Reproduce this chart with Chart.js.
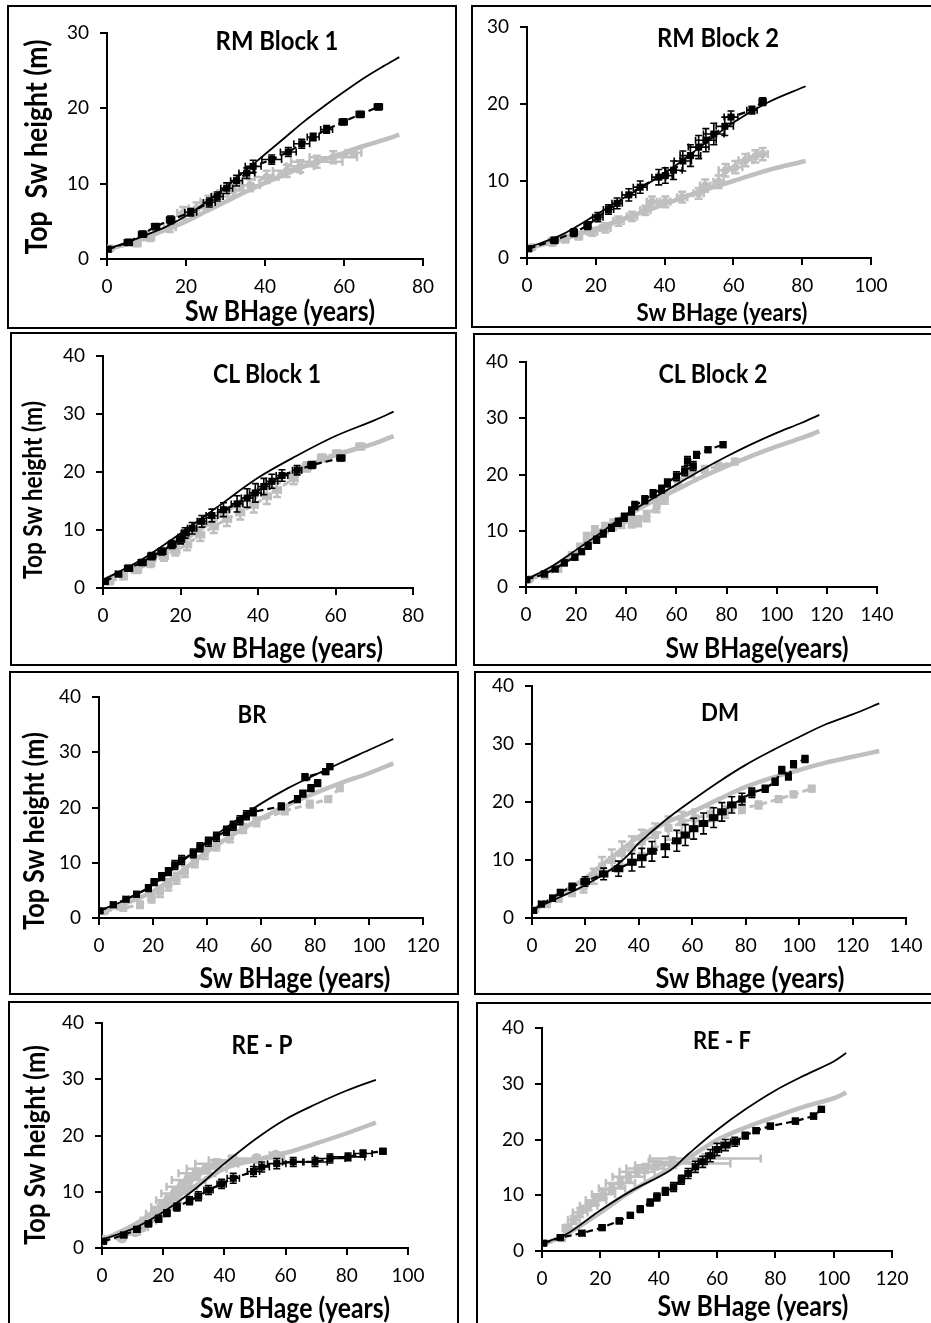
<!DOCTYPE html>
<html><head><meta charset="utf-8">
<script src="https://cdn.jsdelivr.net/npm/chart.js@4.4.1/dist/chart.umd.min.js"></script>
<style>
html,body{margin:0;padding:0;background:#fff;}
body{width:931px;height:1323px;overflow:hidden;position:relative;font-family:Lato,'Open Sans',sans-serif;}
.box{position:absolute;border:2px solid #000;box-sizing:border-box;}
.t{position:absolute;font-weight:bold;white-space:pre;line-height:1;color:#000;}
canvas{position:absolute;}
</style></head><body>
<script>
// ===== DATA =====
// RM Block 1
const p1CurveX = [0,5,10,15,20,25,30,35,40,45,50,55,60,65,70,74];
const p1ModelBlack = [1.3,2.2,3.2,4.3,5.7,7.5,9.5,11.7,13.9,16.1,18.3,20.3,22.2,24.0,25.6,26.8];
const p1ModelGray = [1.2,2.0,2.9,3.9,5.0,6.3,7.6,8.9,10.1,11.2,12.3,13.2,14.1,15.0,15.8,16.5];
const p1BlackAge = [0.3,5.4,9.0,12.3,16.1,21.2,25.9,27.9,30.3,32.8,35.4,37.0,41.7,45.9,49.3,52.2,55.6,59.8,64.1,68.7];
const p1BlackHt = [1.3,2.2,3.3,4.3,5.2,6.2,7.5,8.3,9.4,10.4,11.4,12.3,13.2,14.2,15.3,16.2,17.2,18.2,19.2,20.2];
const p1BlackErrX = [0.5,1,1,1,1,1.5,1.5,1.5,1.5,1.5,2,2,2.5,2,2,1.5,1.5,1,1,1];
const p1BlackErrY = [0.3,0.4,0.4,0.4,0.5,0.5,0.6,0.6,0.7,0.7,0.7,0.8,0.6,0.6,0.6,0.5,0.5,0.4,0.4,0.4];
const p1GrayAge = [0.8,7.5,10.9,15.9,19.3,22.7,25.7,28.6,32.0,36.2,40.4,45.5,48.9,53.1,57.3,62.4];
const p1GrayHt = [1.4,2.1,2.9,4.2,6.1,6.7,7.6,8.3,9.1,9.8,10.9,11.7,12.3,12.9,13.5,14.1];
const p1GrayErrX = [0.5,1,1,1.5,1.5,2,2,2,2.5,2.5,3,3.5,3.5,6.5,6,2];
const p1GrayErrY = [0.3,0.4,0.5,0.6,0.8,0.8,0.8,0.8,0.8,0.8,0.8,0.8,0.8,0.8,0.8,0.5];
// RM Block 2
const p2CurveX = [0,10,20,30,40,50,60,70,81];
const p2ModelBlack = [1.3,3.0,5.6,8.3,11.0,14.3,17.6,20.2,22.3];
const p2ModelGray = [1.2,2.4,3.8,5.4,7.0,8.6,10.0,11.4,12.6];
const p2BlackAge = [0.5,8.0,13.6,17.6,20.6,23.7,26.2,29.6,32.9,38.3,40.2,42.6,45.3,47.5,49.9,52.0,54.3,57.5,59.3,65.4,68.5];
const p2BlackHt = [1.2,2.3,3.3,4.2,5.3,6.3,7.1,8.2,9.2,10.5,10.7,11.4,12.6,13.3,14.4,15.3,16.1,17.1,18.3,19.2,20.3];
const p2BlackErrX = [0.5,1,1,1,1.5,1.5,1.5,2,2,2,2,2.5,2.5,3,3,3,3,2.5,2,1.5,1];
const p2BlackErrY = [0.3,0.4,0.5,0.5,0.6,0.6,0.7,0.8,0.8,1,1,1.2,1.3,1.4,1.5,1.5,1.4,1.2,0.8,0.5,0.5];
const p2GrayAge = [1.5,7.3,11.1,15.0,18.9,22.8,26.6,30.5,34.4,36.3,40.2,45.1,49.9,51.8,55.7,57.7,60.6,63.5,66.4,68.5];
const p2GrayHt = [1.4,2.1,2.5,2.9,3.4,3.9,4.8,5.4,6.2,7.3,7.3,7.9,8.4,9.4,9.9,11.4,11.8,12.7,13.2,13.5];
const p2GrayErrX = [0.5,1,1,1,1.5,1.5,1.5,1.5,1.5,1.5,1.5,1.5,1.5,1.5,1.5,2,2,2,2,1.5];
const p2GrayErrY = [0.3,0.5,0.5,0.5,0.5,0.6,0.6,0.6,0.6,0.7,0.7,0.7,0.7,0.8,0.8,0.8,0.8,0.8,0.8,0.8];
// CL Block 1
const p3CurveX = [0,10,20,30,40,50,60,70,75];
const p3ModelBlack = [1.4,4.9,9.4,14.2,19.0,22.8,26.2,28.9,30.4];
const p3ModelGray = [1.3,4.2,7.9,12.4,16.9,20.3,22.9,24.9,26.2];
const p3BlackAge = [0.6,4.0,6.6,10.1,12.6,15.2,17.8,20.0,21.2,23.0,25.5,28.1,31.1,34.6,37.2,39.3,41.5,43.6,46.2,50.1,53.9,61.4];
const p3BlackHt = [1.1,2.4,3.4,4.4,5.5,6.3,7.5,8.4,9.5,10.3,11.5,12.5,13.5,14.5,15.5,16.4,17.5,18.4,19.4,20.3,21.2,22.4];
const p3BlackErrX = [0.5,0.8,1,1,1,1,1,1,1,1.2,1.2,1.5,1.5,1.5,1.5,1.5,1.5,1.5,1.5,1.2,1,1];
const p3BlackErrY = [0.3,0.4,0.5,0.5,0.6,0.6,0.7,0.8,0.9,1,1,1.1,1.2,1.4,1.6,1.6,1.4,1.2,1,0.8,0.6,0.5];
const p3GrayAge = [1.9,5.3,8.8,12.2,15.7,18.7,21.7,25.1,28.6,32.0,35.4,38.9,42.3,44.9,49.2,52.6,56.5,60.4,66.4];
const p3GrayHt = [1.1,2.0,3.2,4.3,5.5,6.5,7.5,9.2,10.6,11.9,13.0,14.3,15.8,16.9,18.9,20.9,22.4,23.2,24.4];
const p3GrayErrX = [0.5,0.8,1,1,1,1,1,1,1,1,1,1,1,1,1,1,1,1,1];
const p3GrayErrY = [0.3,0.5,0.6,0.7,0.8,0.9,1,1.1,1.1,1.2,1.2,1.3,1.3,1.2,1,0.8,0.6,0.5,0.5];
// CL Block 2
const p4CurveX = [0,10,20,30,40,50,60,70,80,90,100,110,117];
const p4ModelBlack = [1.3,3.6,6.6,9.7,12.9,15.6,18.2,20.8,23.2,25.4,27.4,29.2,30.6];
const p4ModelGray = [1.2,3.3,6.0,9.2,12.6,15.1,17.3,19.5,21.5,23.3,25.0,26.5,27.7];
const p4BlackAge = [0.3,7.3,11.6,15.3,19.5,22.2,24.8,28.2,30.8,34.1,36.8,39.2,42.1,43.4,47.4,50.7,54.1,56.4,60.0,63.3,66.7,64.4,68.0,72.6,78.6];
const p4BlackHt = [1.3,2.3,3.2,4.3,5.3,6.3,7.3,8.4,9.5,10.5,11.5,12.4,13.5,14.5,15.5,16.6,17.4,18.5,19.7,20.6,21.5,22.4,23.5,24.4,25.3];
const p4BlackErrX = [0.5,1,1,1,1,1,1,1,1,1,1,1,1,1,1,1,1,1,1,1,1,1,1,1,1];
const p4BlackErrY = [0.3,0.4,0.4,0.5,0.5,0.5,0.6,0.6,0.6,0.6,0.7,0.7,0.7,0.7,0.7,0.7,0.7,0.7,0.8,0.8,0.8,0.8,0.6,0.5,0.5];
const p4GrayAge = [1.6,7.6,12.9,18.2,21.5,24.2,27.5,31.5,34.8,38.1,42.1,44.8,48.1,52.1,55.4,60.7,66.0,71.3,76.6,83.3];
const p4GrayHt = [1.4,2.0,3.2,5.5,6.9,8.7,9.9,10.5,11.1,11.4,11.5,11.7,12.6,14.3,15.8,18.5,20.3,20.9,21.5,22.3];
const p4GrayErrX = [0.5,1,1,1,1,1,1,1,1,1,1,1,1,1,1,1,1,1,1,1];
const p4GrayErrY = [0.3,0.4,0.5,0.7,0.8,0.9,0.9,0.9,0.9,0.9,0.9,0.9,0.9,1,1,0.9,0.8,0.6,0.6,0.5];
// BR
const p5CurveX = [0,10,20,30,40,50,60,70,80,90,100,109];
const p5ModelBlack = [1.3,3.3,6.0,9.9,13.8,17.4,20.7,23.5,25.9,28.2,30.4,32.4];
const p5ModelGray = [1.1,2.7,4.8,8.2,12.0,15.2,18.0,20.5,22.6,24.5,26.2,28.0];
const p5BlackAge = [0.4,5.3,10.0,13.9,18.3,20.4,23.2,25.7,28.1,30.6,34.9,37.4,40.5,43.5,47.2,49.7,52.2,54.6,57.1,67.5,73.5,75.5,78.5,81.0,76.3,84.0,85.5];
const p5BlackHt = [1.3,2.4,3.4,4.3,5.4,6.5,7.5,8.4,9.6,10.5,11.7,12.8,13.8,14.7,15.8,16.7,17.7,18.6,19.2,20.2,21.5,22.5,23.5,24.4,25.5,26.5,27.4];
const p5BlackErrX = [0.5,1,1,1,1,1,1,1,1,1,1,1,1,1,1,1,1,1,1,1,1,1,1,1,1,1,1];
const p5BlackErrY = [0.3,0.4,0.4,0.5,0.6,0.6,0.7,0.7,0.8,0.8,0.8,0.8,0.8,0.8,0.8,0.8,0.8,0.8,0.7,0.6,0.6,0.6,0.6,0.6,0.6,0.5,0.5];
const p5GrayAge = [2.2,9.0,15.2,19.5,22.6,25.7,28.7,31.8,35.5,39.2,43.5,48.5,53.4,58.3,68.8,78.1,84.9,89.2];
const p5GrayHt = [1.2,1.8,2.4,3.6,4.8,6.0,7.2,8.4,10.2,11.7,13.2,14.7,16.2,17.4,19.4,20.6,21.5,23.5];
const p5GrayErrX = [0.5,1,1,1,1,1,1,1,1,1,1,1,1,1,1,1,1,1];
const p5GrayErrY = [0.3,0.5,0.6,0.8,1,1,1,1,1,1,1,1,0.8,0.8,0.6,0.6,0.5,0.5];
// DM
const p6CurveX = [0,10,20,30,35,40,50,60,70,80,90,100,110,120,130];
const p6ModelBlack = [1.4,3.5,5.7,8.5,10.4,12.9,16.9,20.3,23.5,26.4,28.9,31.2,33.4,35.1,37.0];
const p6ModelGray = [1.3,4.0,6.9,10.5,12.3,14.0,16.4,18.3,20.5,22.6,24.2,25.5,26.8,27.8,28.8];
const p6BlackAge = [0.6,3.5,7.7,10.6,15.0,19.9,26.8,32.4,37.4,41.1,44.9,49.9,54.2,57.4,60.5,64.2,68.0,71.1,74.8,78.6,82.3,87.3,91.0,93.5,96.0,97.9,102.2];
const p6BlackHt = [1.3,2.4,3.4,4.4,5.4,6.3,7.6,8.5,9.6,10.4,11.5,12.3,13.3,14.3,15.4,16.3,17.3,18.3,19.5,20.5,21.6,22.3,23.5,25.5,24.4,26.5,27.4];
const p6BlackErrX = [0.5,1,1,1,1,1.5,1.5,1.5,1.5,1.5,1.5,1.5,1.5,1.5,1.5,1.5,1.5,1.5,1.5,1,1,1,1,1,1,1,1];
const p6BlackErrY = [0.3,0.4,0.5,0.5,0.6,0.8,1,1.3,1.5,1.6,1.7,1.8,1.8,1.8,1.8,1.8,1.7,1.6,1.4,1,0.8,0.6,0.6,0.6,0.6,0.6,0.6];
const p6GrayAge = [1.2,5.6,10.0,15.0,19.3,23.1,26.2,29.9,33.7,37.4,41.1,46.1,51.1,56.1,61.1,66.7,72.3,78.6,84.8,92.3,97.9,104.7];
const p6GrayHt = [1.4,2.4,3.4,4.6,5.4,7.2,8.9,10.0,11.2,12.1,13.2,14.3,15.5,16.5,17.2,17.9,18.3,18.9,19.5,20.5,21.3,22.3];
const p6GrayErrX = [0.5,1,1,1,1,1,1,1,1,1,1,1,1,1,1,1,1,1,1,1,1,1];
const p6GrayErrY = [0.3,0.5,0.6,0.8,1,1.3,1.6,1.8,2,2,2,2,2,1.8,1.5,1.2,1,0.8,0.6,0.5,0.5,0.5];
// RE - P
const p7CurveX = [0,10,20,30,40,50,60,70,80,89.5];
const p7ModelBlack = [1.5,3.4,6.4,10.3,15.0,19.3,22.9,25.6,28.0,29.9];
const p7ModelGray = [1.4,4.0,7.6,10.9,14.1,15.6,16.9,18.6,20.4,22.3];
const p7BlackAge = [0.5,7.1,11.4,15.2,18.5,21.2,24.5,28.6,31.5,34.8,39.1,42.9,49.5,52.2,57.1,62.5,69.6,74.5,80.4,85.3,91.8];
const p7BlackHt = [1.2,2.3,3.3,4.3,5.2,6.2,7.3,8.4,9.2,10.3,11.4,12.4,13.6,14.4,15.0,15.3,15.3,15.9,16.2,16.8,17.2];
const p7BlackErrX = [0.5,1,1,1,1,1,1,1,1,1.5,1.5,2,2,2.5,3,3.5,4,5,5.5,3,1];
const p7BlackErrY = [0.3,0.4,0.5,0.5,0.6,0.6,0.7,0.7,0.8,0.8,0.8,0.9,0.9,0.9,0.9,0.8,0.8,0.8,0.7,0.6,0.5];
const p7GrayAge = [0.5,6.5,10.9,13.0,15.2,17.4,19.6,21.7,23.9,26.1,28.3,31.0,34.2,37.5,42.9,50.5,56.8];
const p7GrayHt = [1.4,1.8,2.9,3.7,4.9,6.1,7.3,8.5,9.7,10.9,12.1,13.3,14.1,15.0,15.6,15.9,16.5];
const p7GrayErrX = [0.5,1,1.5,2,2.5,3,3.5,4,4.5,5,5.5,6,6.5,7,8,9,2];
const p7GrayErrY = [0.3,0.4,0.5,0.6,0.7,0.8,0.8,0.8,0.8,0.8,0.8,0.8,0.8,0.8,0.8,0.6,0.5];
// RE - F
const p8CurveX = [0,8,20,30,44,50,60,70,80,90,100,104.3];
const p8ModelBlack = [1.4,2.9,7.3,10.6,14.5,17.3,21.7,25.5,28.8,31.5,34.0,35.5];
const p8ModelGray = [1.1,2.9,6.9,10.5,14.8,16.6,19.9,22.2,24.1,25.9,27.4,28.4];
const p8BlackAge = [0.6,6.3,13.7,20.6,26.5,30.3,33.7,37.1,39.4,42.3,45.1,47.8,50.1,52.6,55.1,57.7,60.0,62.9,66.1,69.7,73.4,78.3,86.9,93.1,95.8];
const p8BlackHt = [1.4,2.4,3.2,4.2,5.4,6.4,7.5,8.7,9.7,10.7,11.5,12.8,13.9,15.1,16.0,17.1,18.2,19.0,19.6,20.7,21.6,22.4,23.3,24.2,25.4];
const p8BlackErrX = [0.5,1,1,1,1,1,1,1,1,1,1,1,1,1,1.5,1.5,1.5,1.5,1.5,1,1,1,1,1,1];
const p8BlackErrY = [0.3,0.4,0.4,0.5,0.5,0.5,0.6,0.6,0.7,0.7,0.8,0.8,0.9,1,1,1.1,1.1,1,0.8,0.6,0.5,0.5,0.5,0.5,0.5];
const p8GrayAge = [6.9,8.6,10.9,13.1,16.0,18.5,21.1,24.0,26.9,29.7,32.6,35.4,38.9,44.6,52.6,56.0];
const p8GrayHt = [2.3,4.1,5.6,6.9,8.1,9.1,10.2,11.2,12.2,13.3,14.2,14.8,15.4,16.0,15.7,16.6];
const p8GrayErrX = [1,1.5,2,2.5,3,3.5,4,4.5,5,5.5,6,6.5,7,8,12,19];
const p8GrayErrY = [0.5,0.6,0.7,0.8,0.8,0.8,0.8,0.8,0.8,0.8,0.8,0.8,0.8,0.8,0.8,0.8];

// axis ranges
const xMaxes = [80,100,80,140,120,140,100,120];
const yMaxes = [30,30,40,40,40,40,40,40];
const xSteps = [20,20,20,20,20,20,20,20];
const ySteps = [10,10,10,10,10,10,10,10];
const panelTitles = ['RM Block 1','RM Block 2','CL Block 1','CL Block 2','BR','DM','RE - P','RE - F'];
const xTitles = ['Sw BHage (years)','Sw BHage (years)','Sw BHage (years)','Sw BHage(years)','Sw BHage (years)','Sw Bhage (years)','Sw BHage (years)','Sw BHage (years)'];
const yTitles = ['Top  Sw height (m)','','Top Sw height (m)','','Top Sw height (m)','','Top Sw height (m)',''];

// ===== LAYOUT =====
const layout = [
  {box:[7,5,457,329],   area:[107,423,33,259],  title:[277,40,123], xt:[280,310,190], yt:[35,147,215]},
  {box:[471,5,935,328], area:[527,871,27,258],  title:[718,37,122], xt:[722,312,171], yt:null},
  {box:[10,332,457,666],area:[103,413,356,588], title:[267,373,108], xt:[288,647,190], yt:[33,490,178]},
  {box:[473,333,935,666],area:[526,877,362,587],title:[713,373,109], xt:[757,647,183], yt:null},
  {box:[9,671,459,995], area:[99,423,697,918],  title:[252,714,29], xt:[295,977,191], yt:[33,831,198]},
  {box:[474,671,935,995],area:[532,906,686,918],title:[720,712,38], xt:[750,977,189], yt:null},
  {box:[8,1001,459,1330],area:[102,408,1023,1248],title:[262,1045,61], xt:[295,1307,190], yt:[33,1145,200]},
  {box:[476,1002,935,1330],area:[542,892,1028,1251],title:[722,1039,58], xt:[753,1305,191], yt:null}
];

const series = [
  [p1CurveX,p1ModelBlack,p1ModelGray,p1BlackAge,p1BlackHt,p1BlackErrX,p1BlackErrY,p1GrayAge,p1GrayHt,p1GrayErrX,p1GrayErrY],
  [p2CurveX,p2ModelBlack,p2ModelGray,p2BlackAge,p2BlackHt,p2BlackErrX,p2BlackErrY,p2GrayAge,p2GrayHt,p2GrayErrX,p2GrayErrY],
  [p3CurveX,p3ModelBlack,p3ModelGray,p3BlackAge,p3BlackHt,p3BlackErrX,p3BlackErrY,p3GrayAge,p3GrayHt,p3GrayErrX,p3GrayErrY],
  [p4CurveX,p4ModelBlack,p4ModelGray,p4BlackAge,p4BlackHt,p4BlackErrX,p4BlackErrY,p4GrayAge,p4GrayHt,p4GrayErrX,p4GrayErrY],
  [p5CurveX,p5ModelBlack,p5ModelGray,p5BlackAge,p5BlackHt,p5BlackErrX,p5BlackErrY,p5GrayAge,p5GrayHt,p5GrayErrX,p5GrayErrY],
  [p6CurveX,p6ModelBlack,p6ModelGray,p6BlackAge,p6BlackHt,p6BlackErrX,p6BlackErrY,p6GrayAge,p6GrayHt,p6GrayErrX,p6GrayErrY],
  [p7CurveX,p7ModelBlack,p7ModelGray,p7BlackAge,p7BlackHt,p7BlackErrX,p7BlackErrY,p7GrayAge,p7GrayHt,p7GrayErrX,p7GrayErrY],
  [p8CurveX,p8ModelBlack,p8ModelGray,p8BlackAge,p8BlackHt,p8BlackErrX,p8BlackErrY,p8GrayAge,p8GrayHt,p8GrayErrX,p8GrayErrY]
];

const BLACK = '#000000', GRAY = '#bfbfbf';
Chart.defaults.font.family = "Lato, 'Open Sans', sans-serif";

const errorBars = {
  id: 'errorBars',
  afterDatasetDraw(chart, args) {
    const ds = chart.data.datasets[args.index];
    if (!ds.errX) return;
    const ctx = chart.ctx, xs = chart.scales.x, ys = chart.scales.y, a = chart.chartArea;
    ctx.save();
    ctx.beginPath(); ctx.rect(a.left, a.top - 5, a.right - a.left + 5, a.bottom - a.top + 5); ctx.clip();
    ctx.strokeStyle = ds.borderColor; ctx.lineWidth = ds.errWidth; ctx.setLineDash([]);
    const c = ds.capLen;
    ds.data.forEach((pt, i) => {
      const ex = ds.errX[i], ey = ds.errY[i];
      const px = xs.getPixelForValue(pt.x), py = ys.getPixelForValue(pt.y);
      const x1 = xs.getPixelForValue(pt.x - ex), x2 = xs.getPixelForValue(pt.x + ex);
      const y1 = ys.getPixelForValue(pt.y - ey), y2 = ys.getPixelForValue(pt.y + ey);
      ctx.beginPath();
      ctx.moveTo(x1, py); ctx.lineTo(x2, py);
      ctx.moveTo(px, y1); ctx.lineTo(px, y2);
      ctx.moveTo(x1, py - c); ctx.lineTo(x1, py + c);
      ctx.moveTo(x2, py - c); ctx.lineTo(x2, py + c);
      ctx.moveTo(px - c, y1); ctx.lineTo(px + c, y1);
      ctx.moveTo(px - c, y2); ctx.lineTo(px + c, y2);
      ctx.stroke();
    });
    ctx.restore();
  }
};

function pts(xs, ys) { return xs.map((x, i) => ({x: x, y: ys[i]})); }

const SQUEEZE = 0.88;
function addText(str, cx, cy, target, rotate) {
  const d = document.createElement('div');
  d.className = 't'; d.textContent = str; d.style.fontSize = '20px';
  d.style.left = '0px'; d.style.top = '0px';
  document.body.appendChild(d);
  const w = d.getBoundingClientRect().width;
  d.style.fontSize = (20 * target / (w * SQUEEZE)) + 'px';
  d.style.left = cx + 'px'; d.style.top = cy + 'px';
  d.style.transform = 'translate(-50%,-50%)' + (rotate ? ' rotate(-90deg)' : '') + ' scaleX(' + SQUEEZE + ')';
}

const YW = 50, XH = 40;
layout.forEach((L, k) => {
  const [bl, bt, br, bb] = L.box;
  const [ax0, ax1, ayt, ayb] = L.area;
  const W = br - bl, H = bb - bt;
  const cv = document.createElement('canvas');
  cv.width = W; cv.height = H;
  cv.style.left = bl + 'px'; cv.style.top = bt + 'px';
  cv.style.width = W + 'px'; cv.style.height = H + 'px';
  document.body.appendChild(cv);
  const box = document.createElement('div');
  box.className = 'box';
  box.style.left = bl + 'px'; box.style.top = bt + 'px';
  box.style.width = W + 'px'; box.style.height = H + 'px';
  document.body.appendChild(box);

  const s = series[k];
  const grayR = (k === 6) ? 5.5 : 4;
  new Chart(cv, {
    type: 'scatter',
    data: { datasets: [
      { data: pts(s[0], s[1]), showLine: true, borderColor: BLACK, borderWidth: 1.8, pointRadius: 0, tension: 0.35 },
      { data: pts(s[3], s[4]), showLine: true, borderColor: BLACK, backgroundColor: BLACK, borderWidth: 2.2, borderDash: [7, 4],
        pointStyle: 'rect', pointRadius: 5, pointBorderWidth: 0, errX: s[5], errY: s[6], errWidth: 1.6, capLen: 3.5 },
      { data: pts(s[0], s[2]), showLine: true, borderColor: GRAY, borderWidth: 4.5, pointRadius: 0, tension: 0.35 },
      { data: pts(s[7], s[8]), showLine: true, borderColor: GRAY, backgroundColor: GRAY, borderWidth: 3, borderDash: [7, 4],
        pointStyle: 'circle', pointRadius: grayR, pointBorderWidth: 0, errX: s[9], errY: s[10], errWidth: 2.5, capLen: 4 }
    ]},
    options: {
      responsive: false, animation: false, devicePixelRatio: 1,
      layout: { padding: { left: ax0 - bl - YW, top: ayt - bt, right: br - ax1, bottom: bb - ayb - XH } },
      plugins: { legend: { display: false }, tooltip: { enabled: false } },
      scales: {
        x: { type: 'linear', min: 0, max: xMaxes[k],
          ticks: { stepSize: xSteps[k], color: '#000', font: { size: 19 }, padding: 9, maxRotation: 0, autoSkip: false },
          grid: { drawOnChartArea: false, drawTicks: true, tickLength: 7, color: '#000', lineWidth: 2 },
          border: { display: true, color: '#000', width: 2 },
          afterFit(sc) { sc.height = XH; sc.paddingLeft = 0; sc.paddingRight = 0; } },
        y: { type: 'linear', min: 0, max: yMaxes[k],
          ticks: { stepSize: ySteps[k], color: '#000', font: { size: 19 }, padding: 11 },
          grid: { drawOnChartArea: false, drawTicks: true, tickLength: 7, color: '#000', lineWidth: 2 },
          border: { display: true, color: '#000', width: 2 },
          afterFit(sc) { sc.width = YW; sc.paddingTop = 0; sc.paddingBottom = 0; } }
      }
    },
    plugins: [errorBars]
  });

  addText(panelTitles[k], L.title[0], L.title[1], L.title[2], false);
  addText(xTitles[k], L.xt[0], L.xt[1], L.xt[2], false);
  if (L.yt) addText(yTitles[k], L.yt[0], L.yt[1], L.yt[2], true);
});
</script>
</body></html>
